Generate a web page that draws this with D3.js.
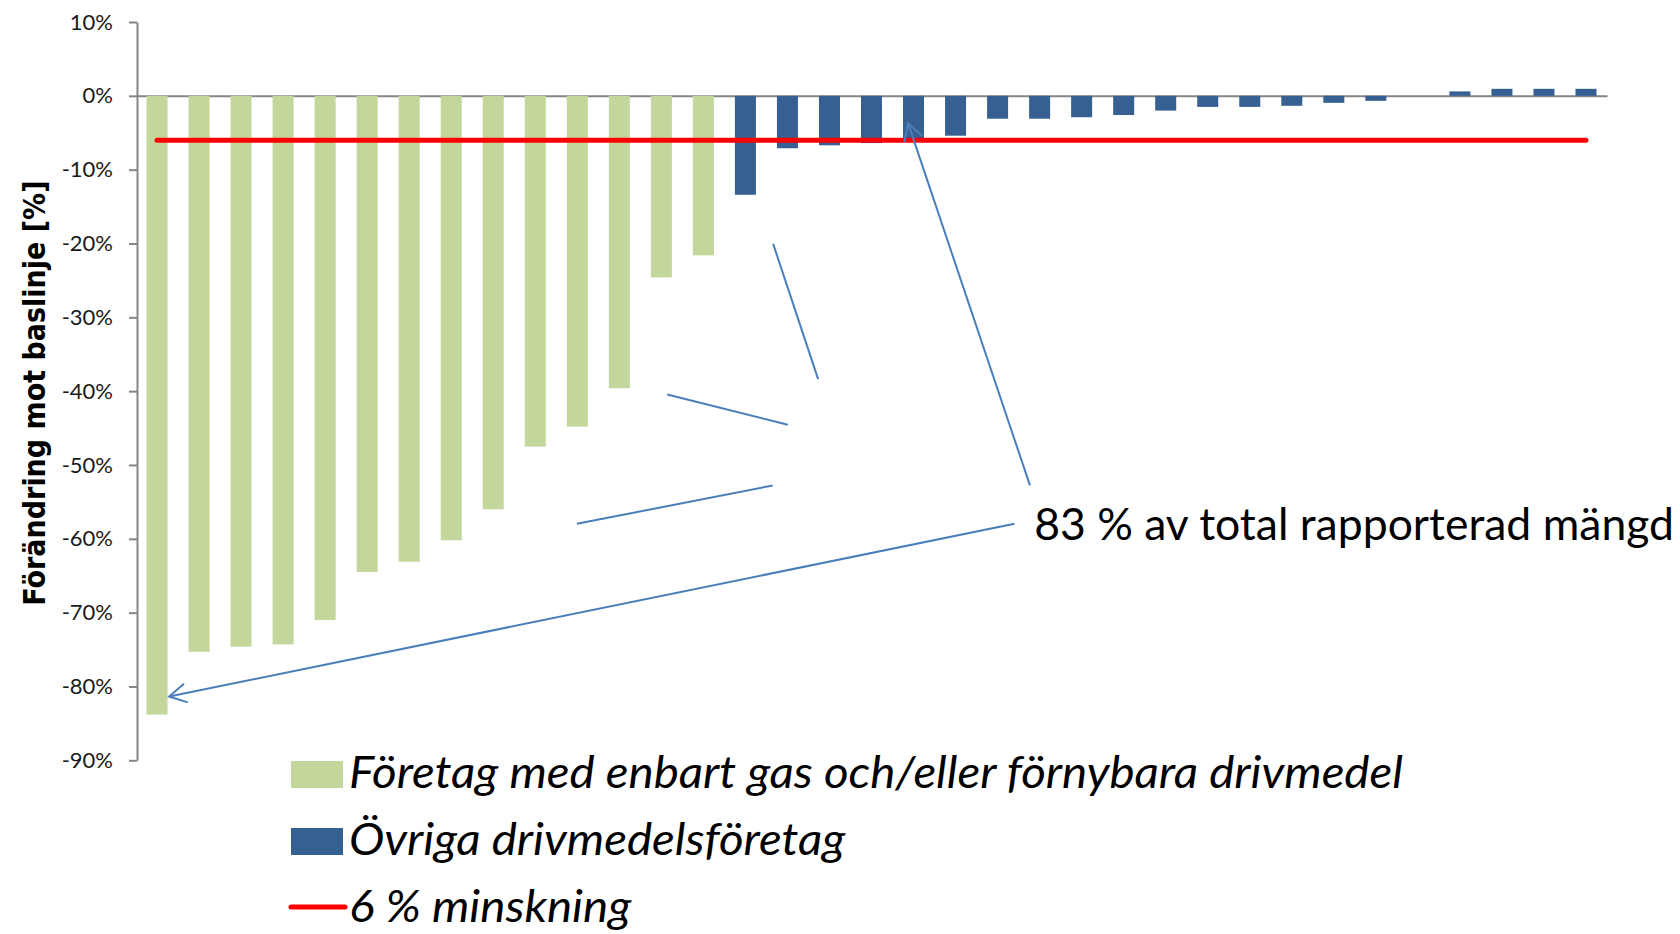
<!DOCTYPE html>
<html lang="sv">
<head>
  <meta charset="UTF-8" />
  <title>Förändring mot baslinje</title>
  <script src="https://d3js.org/d3.v7.min.js"></script>
  <style>
    body { margin: 0; overflow: hidden; background: #fff; }
    svg { background: #fff; }
    .tick text { font-family: Lato, "Open Sans", sans-serif; font-size: 22px; fill: #1a1a1a; }
    .axis path, .axis line { stroke: #868686; stroke-width: 2px; }
    .legend text { font-family: Lato, "Open Sans", sans-serif; font-style: italic; font-size: 44px; fill: #000; }
  </style>
</head>
<body>
  <svg width="1680" height="934"></svg>
  <script>
    const width = 1680, height = 934;

    // 35 företag, sorterade efter förändring
    const categories = [1, 2, 3, 4, 5, 6, 7, 8, 9, 10, 11, 12, 13, 14, 15, 16, 17, 18,
                        19, 20, 21, 22, 23, 24, 25, 26, 27, 28, 29, 30, 31, 32, 33, 34, 35];
    // Företag med enbart gas och/eller förnybara drivmedel (%)
    const gasValues = [-83.8, -75.3, -74.6, -74.3, -71.0, -64.5, -63.1, -60.2, -56.0,
                       -47.5, -44.8, -39.6, -24.6, -21.6];
    // Övriga drivmedelsföretag (%)
    const otherValues = [-13.4, -7.1, -6.7, -6.4, -6.2, -5.4, -3.1, -3.1, -2.9, -2.6, -2.0,
                         -1.5, -1.5, -1.35, -0.95, -0.68, 0, 0.6, 0.95, 0.95, 0.95];
    const targetValue = -6;
    const yTicks = [10, 0, -10, -20, -30, -40, -50, -60, -70, -80, -90];

    const seriesNames = ["Företag med enbart gas och/eller förnybara drivmedel",
                         "Övriga drivmedelsföretag", "6 % minskning"];
    const colors = ["#c3d69b", "#376092", "#ff0000"];

    // annotering: [kategoriposition, värde]
    const annotationText = "83 % av total rapporterad mängd";
    const annotationAnchor = [21.37, -60.1];
    const annotationArrows = [
      [[20.90, -57.97], [0.79, -81.36]],
      [[21.27, -52.76], [18.37, -3.70]]
    ];
    const annotationLines = [
      [[15.16, -20.05], [16.23, -38.37]],
      [[12.64, -40.46], [15.51, -44.56]],
      [[10.49, -57.97], [15.15, -52.78]]
    ];

    const bars = categories.map((c, i) => ({
      cat: c,
      value: i < gasValues.length ? gasValues[i] : otherValues[i - gasValues.length],
      group: i < gasValues.length ? 0 : 1
    }));

    const svg = d3.select("svg").attr("width", width).attr("height", height);

    const x = d3.scaleBand().domain(categories).range([136, 1607])
                .paddingInner(0.5).paddingOuter(0.25);
    const xu = d3.scaleLinear().domain([0, categories.length]).range([136, 1607]);
    const y = d3.scaleLinear().domain([-90, 10]).range([760.3, 22]);

    // nollinje
    svg.append("g").attr("class", "axis")
      .attr("transform", `translate(0,${y(0)})`)
      .call(d3.axisBottom(x).tickSize(0).tickSizeOuter(0).tickFormat(""))
      .call(g => g.selectAll(".tick").remove());

    // y-axel
    svg.append("g").attr("class", "axis")
      .attr("transform", "translate(137,0)")
      .call(d3.axisLeft(y).tickValues(yTicks).tickFormat(d => d + "%")
              .tickSize(8).tickSizeOuter(0).tickPadding(16));

    svg.append("text")
      .attr("transform", `translate(45,${(y(-90) + y(10)) / 2 + 2}) rotate(-90)`)
      .attr("text-anchor", "middle")
      .style("font-family", "'DejaVu Sans Condensed', 'DejaVu Sans', sans-serif")
      .style("font-stretch", "condensed")
      .style("font-weight", "bold")
      .style("font-size", "30px")
      .text("Förändring mot baslinje [%]");

    // staplar
    svg.append("g").selectAll("rect")
      .data(bars)
      .join("rect")
        .attr("x", d => x(d.cat))
        .attr("width", x.bandwidth())
        .attr("y", d => y(Math.max(0, d.value)))
        .attr("height", d => Math.abs(y(d.value) - y(0)))
        .attr("fill", d => colors[d.group]);

    // 6 % minskning
    svg.append("path")
      .datum(categories)
      .attr("fill", "none")
      .attr("stroke", colors[2])
      .attr("stroke-width", 5)
      .attr("stroke-linecap", "round")
      .attr("d", d3.line().x(c => x(c) + x.bandwidth() / 2).y(() => y(targetValue)));

    // annotering
    const defs = svg.append("defs");
    defs.append("marker")
      .attr("id", "arrow")
      .attr("viewBox", "-20 -12 24 24")
      .attr("refX", 0).attr("refY", 0)
      .attr("markerWidth", 24).attr("markerHeight", 24)
      .attr("markerUnits", "userSpaceOnUse")
      .attr("orient", "auto")
      .append("path")
        .attr("d", "M-17,-9.5L0,0L-17,9.5")
        .attr("fill", "none")
        .attr("stroke", "#4a7ebb")
        .attr("stroke-width", 2);

    const seg = d3.line().x(p => xu(p[0])).y(p => y(p[1]));
    const ann = svg.append("g").attr("fill", "none").attr("stroke", "#4a7ebb").attr("stroke-width", 2);
    ann.selectAll("path.line").data(annotationLines).join("path")
      .attr("class", "line").attr("d", seg);
    ann.selectAll("path.arrow").data(annotationArrows).join("path")
      .attr("class", "arrow").attr("d", seg).attr("marker-end", "url(#arrow)");

    svg.append("text")
      .attr("x", xu(annotationAnchor[0]))
      .attr("y", y(annotationAnchor[1]))
      .style("font-family", "Lato, 'Open Sans', sans-serif")
      .style("font-size", "44.5px")
      .text(annotationText);

    // legend
    const legend = svg.append("g").attr("class", "legend").attr("transform", "translate(291,761)");
    const rows = legend.selectAll("g").data(seriesNames).join("g")
      .attr("transform", (d, i) => `translate(0,${i * 67})`);
    rows.filter((d, i) => i < 2).append("rect")
      .attr("width", 52).attr("height", 27)
      .attr("fill", (d, i) => colors[i]);
    rows.filter((d, i) => i === 2).append("line")
      .attr("x1", 0).attr("x2", 54).attr("y1", 12).attr("y2", 12)
      .attr("stroke", colors[2]).attr("stroke-width", 5).attr("stroke-linecap", "round");
    rows.append("text")
      .attr("transform", "translate(58,27) scale(1.08,1)")
      .text(d => d);
  </script>
</body>
</html>
